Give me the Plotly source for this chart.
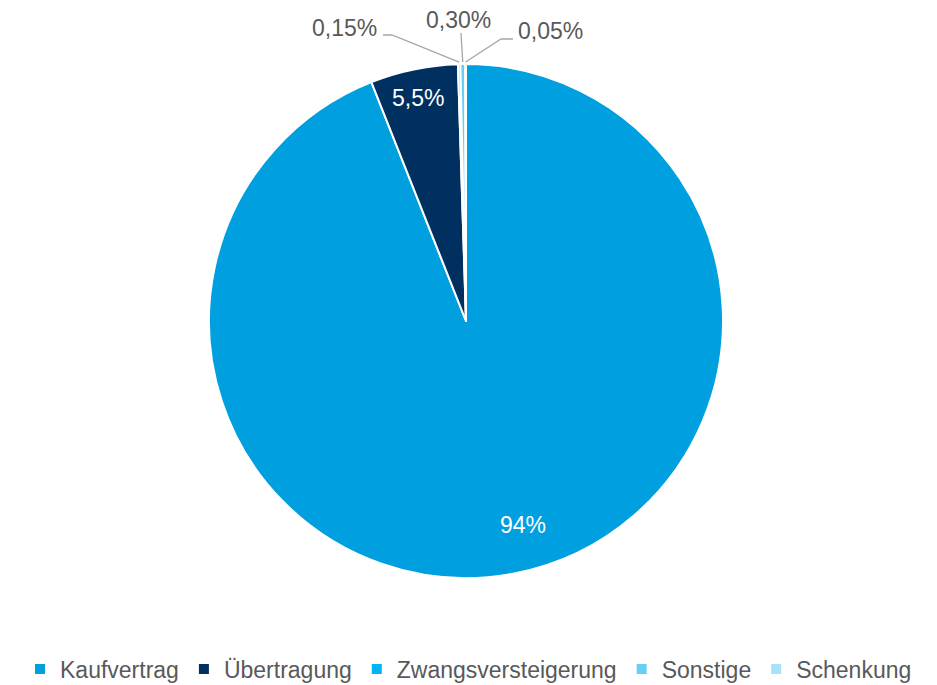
import math
import plotly.graph_objects as go

categories = ["Kaufvertrag", "Übertragung", "Zwangsversteigerung", "Sonstige", "Schenkung"]
values = [94.0, 5.5, 0.15, 0.30, 0.05]
value_labels = ["94%", "5,5%", "0,15%", "0,30%", "0,05%"]
colors = ["#009FE0", "#00305F", "#00B4F5", "#66CFF6", "#A8E2F9"]

W, H = 937, 685
CX, CY, R = 466, 321, 257
FONT = "Liberation Sans, Arial, sans-serif"

fig = go.Figure(go.Pie(
    labels=categories,
    values=values,
    textinfo="none",
    marker=dict(colors=colors, line=dict(color="white", width=2)),
    sort=False,
    direction="clockwise",
    rotation=0,
    hoverinfo="label+percent",
    domain=dict(x=[(CX - R) / W, (CX + R) / W], y=[(H - CY - R) / H, (H - CY + R) / H]),
))

def px2paper(x, y):
    return x / W, 1 - y / H

# label layout: text centre, leader-line elbow points (small slices only), text colour
label_layout = {
    0: dict(text_xy=(523, 525), elbow=None, color="white"),
    1: dict(text_xy=(418, 98), elbow=None, color="white"),
    2: dict(text_xy=(344, 28), elbow=[(383, 35), (392, 35)], color="#595959"),
    3: dict(text_xy=(458, 20), elbow=[(461, 33)], color="#595959"),
    4: dict(text_xy=(550, 31), elbow=[(513, 39), (501, 39)], color="#595959"),
}

total = sum(values)
cum = 0.0
shapes = []
annotations = []
for i, v in enumerate(values):
    mid = (cum + v / 2) / total * 2 * math.pi
    cum += v
    lay = label_layout[i]
    if lay["elbow"]:
        ex = CX + (R + 2) * math.sin(mid)
        ey = CY - (R + 2) * math.cos(mid)
        pts = lay["elbow"] + [(ex, ey)]
        path = ""
        for k, (x, y) in enumerate(pts):
            px, py = px2paper(x, y)
            path += ("M" if k == 0 else " L") + f" {px:.5f} {py:.5f}"
        shapes.append(dict(type="path", path=path, xref="paper", yref="paper",
                           line=dict(color="#A6A6A6", width=1.3)))
    tx, ty = px2paper(*lay["text_xy"])
    annotations.append(dict(x=tx, y=ty, xref="paper", yref="paper", text=value_labels[i],
                            showarrow=False, xanchor="center", yanchor="middle",
                            font=dict(size=23, color=lay["color"], family=FONT)))

fig.update_layout(
    width=W, height=H,
    margin=dict(l=0, r=0, t=0, b=0, autoexpand=False),
    paper_bgcolor="white",
    plot_bgcolor="white",
    shapes=shapes,
    annotations=annotations,
    showlegend=True,
    legend=dict(orientation="h", x=0.5, xanchor="center", y=(H - 669) / H, yanchor="middle",
                font=dict(size=23, color="#595959", family=FONT), traceorder="normal",
                itemclick=False, itemdoubleclick=False),
    font=dict(family=FONT),
)

fig.write_html("out.html", config={"displayModeBar": False},
               post_script="document.body.style.margin='0';")
